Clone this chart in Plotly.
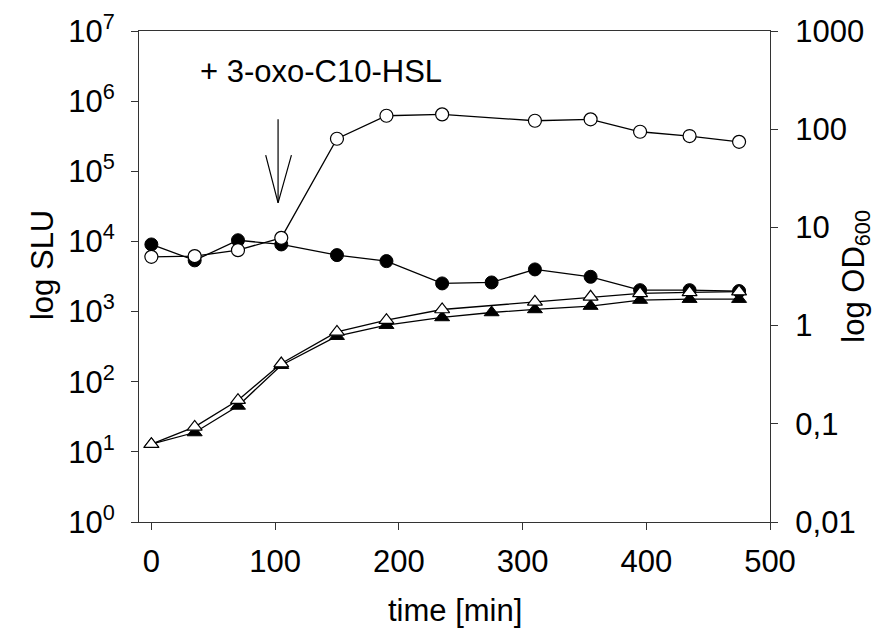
import plotly.graph_objects as go

# ---- data ----
time_filled = [0, 35, 70, 105, 150, 190, 235, 275, 310, 355, 395, 435, 475]
slu_filled = [9060, 5370, 10400, 9060, 6380, 5240, 2520, 2600, 3990, 3130, 2020, 2020, 1960]
od_filled = [0.062, 0.0815, 0.152, 0.395, 0.780, 1.01, 1.21, 1.36, 1.46, 1.58, 1.82, 1.86, 1.86]

time_open = [0, 35, 70, 105, 150, 190, 235, 310, 355, 395, 435, 475]
slu_open = [6030, 6170, 7510, 11250, 291000, 619000, 648000, 525000, 550000, 366000, 318000, 263000]
od_open = [0.062, 0.093, 0.174, 0.411, 0.863, 1.135, 1.459, 1.745, 1.963, 2.125, 2.175, 2.22]

x_tickvals = [0, 100, 200, 300, 400, 500]
slu_tickvals = [1, 10, 100, 1000, 10000, 100000, 1000000, 10000000]
slu_ticktext = ["10<sup>%d</sup>" % i for i in range(8)]
od_tickvals = [0.01, 0.1, 1, 10, 100, 1000]
od_ticktext = ["0,01", "0,1", "1", "10", "100", "1000"]

# arrow marking the addition of 3-oxo-C10-HSL (time, SLU)
arrow_time = [102.4, 102.4, None, 92.4, 102.4, 113.2]
arrow_slu = [550000, 35500, None, 170000, 35500, 170000]
annot_text = "+ 3-oxo-C10-HSL"
annot_time = 137

FONT = "Arial, Liberation Sans, sans-serif"
FS = 31

fig = go.Figure()

# OD600 (triangles) on right axis
fig.add_trace(go.Scatter(
    x=time_filled, y=od_filled, yaxis="y2", mode="lines+markers",
    line=dict(color="black", width=1.3),
    marker=dict(symbol="triangle-up", size=13, color="black",
                line=dict(color="black", width=1)),
    showlegend=False))
fig.add_trace(go.Scatter(
    x=time_open, y=od_open, yaxis="y2", mode="lines+markers",
    line=dict(color="black", width=1.3),
    marker=dict(symbol="triangle-up", size=13, color="white",
                line=dict(color="black", width=1.2)),
    showlegend=False))

# SLU (circles) on left axis
fig.add_trace(go.Scatter(
    x=time_filled, y=slu_filled, mode="lines+markers",
    line=dict(color="black", width=1.3),
    marker=dict(symbol="circle", size=13, color="black",
                line=dict(color="black", width=1)),
    showlegend=False))
fig.add_trace(go.Scatter(
    x=time_open, y=slu_open, mode="lines+markers",
    line=dict(color="black", width=1.3),
    marker=dict(symbol="circle", size=13, color="white",
                line=dict(color="black", width=1.2)),
    showlegend=False))

# arrow
fig.add_trace(go.Scatter(
    x=arrow_time, y=arrow_slu, mode="lines",
    line=dict(color="black", width=1.2),
    hoverinfo="skip", showlegend=False))

fig.add_annotation(
    x=annot_time, xref="x", y=0.917, yref="paper",
    text=annot_text, showarrow=False,
    font=dict(family=FONT, size=FS, color="black"),
    xanchor="center", yanchor="middle")

# axis titles
fig.add_annotation(x=0.5, xref="paper", y=-0.18, yref="paper",
                   text="time [min]", showarrow=False,
                   font=dict(family=FONT, size=FS, color="black"),
                   xanchor="center", yanchor="middle")
fig.add_annotation(x=-0.154, xref="paper", y=0.523, yref="paper",
                   text="log SLU", showarrow=False, textangle=-90,
                   font=dict(family=FONT, size=FS, color="black"),
                   xanchor="center", yanchor="middle")
fig.add_annotation(x=1.135, xref="paper", y=0.50, yref="paper",
                   text="log OD<sub>600</sub>", showarrow=False, textangle=-90,
                   font=dict(family=FONT, size=FS, color="black"),
                   xanchor="center", yanchor="middle")

axis_common = dict(
    showgrid=False, zeroline=False, showline=True, automargin=False,
    linecolor="#333333", linewidth=1.2,
    ticks="outside", ticklen=7, tickwidth=1.2, tickcolor="#333333",
    tickfont=dict(family=FONT, size=FS, color="black"),
)

# page body has an 8px default margin; size/margins compensate for it
fig.update_layout(
    width=880, height=631,
    margin=dict(l=131, r=118, t=23, b=117),
    paper_bgcolor="white", plot_bgcolor="white",
    font=dict(family=FONT, size=FS, color="black"),
    xaxis=dict(
        range=[-10, 500], tickvals=x_tickvals,
        mirror=True, ticklabelstandoff=5,
        **axis_common),
    yaxis=dict(
        type="log", range=[0, 7], tickvals=slu_tickvals, ticktext=slu_ticktext,
        ticklabelstandoff=10,
        **axis_common),
    yaxis2=dict(
        type="log", range=[-2, 3], overlaying="y", side="right",
        tickvals=od_tickvals, ticktext=od_ticktext,
        ticklabelstandoff=11,
        **axis_common),
)

fig.write_html("out.html")
